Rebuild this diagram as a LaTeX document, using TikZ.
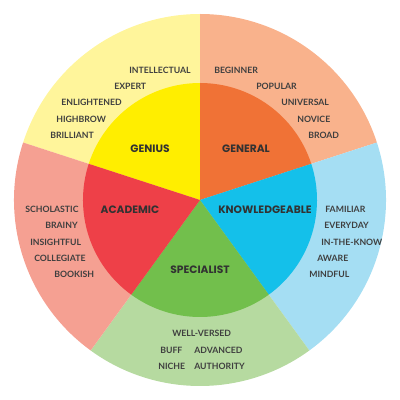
\documentclass[tikz,border=0pt]{standalone}
\usepackage{fontspec}
\newfontfamily\wordfont{Lato}
\newfontfamily\headfont{Poppins}
\usepackage{tikz}
\usetikzlibrary{positioning}
\definecolor{txtgray}{HTML}{3F3F3F}
\definecolor{genin}{HTML}{FFEE00}
\definecolor{genout}{HTML}{FFF59B}
\definecolor{genrin}{HTML}{F07236}
\definecolor{genrout}{HTML}{F9B28C}
\definecolor{knowin}{HTML}{14C0EA}
\definecolor{knowout}{HTML}{A5DEF3}
\definecolor{specin}{HTML}{72BF4C}
\definecolor{specout}{HTML}{B6DAA0}
\definecolor{acadin}{HTML}{EE4048}
\definecolor{acadout}{HTML}{F5A092}

\begin{document}
\begin{tikzpicture}[x=0.025cm,y=0.025cm,
    word/.style={anchor=west,inner sep=0pt,text=txtgray,
      font=\wordfont\bfseries\fontsize{6.2}{7}\selectfont},
    head/.style={inner sep=0pt,text=txtgray!80!black,
      font=\headfont\bfseries\fontsize{7.6}{9}\selectfont}]
  \useasboundingbox (-200,-200) rectangle (200,200);
  % outer ring, one 72 degree slice per group
  \foreach \a/\c in {90/genout,18/genrout,-54/knowout,-126/specout,162/acadout}
    \fill[\c] (0,0) -- (\a:186) arc[start angle=\a,delta angle=72,radius=186] -- cycle;
  % inner disc
  \foreach \a/\c in {90/genin,18/genrin,-54/knowin,-126/specin,162/acadin}
    \fill[\c] (0,0) -- (\a:117) arc[start angle=\a,delta angle=72,radius=117] -- cycle;
  % group names
  \node[head] (genius) at (-50,51) {GENIUS};
  \node[head] (general) at (46,51) {GENERAL};
  \node[head] (academic) at (-70,-10) {ACADEMIC};
  \node[head] (knowl) at (65,-10) {KNOWLEDGEABLE};
  \node[head] (special) at (0,-70) {SPECIALIST};
  % genius words
  \node[word] (intel) at (-71,130) {INTELLECTUAL};
  \node[word] (expert) at (-86,114) {EXPERT};
  \node[word] (enlight) at (-139,97.3) {ENLIGHTENED};
  \node[word] (highbrow) at (-144,81) {HIGHBROW};
  \node[word] (brill) at (-150,65) {BRILLIANT};
  % general words
  \node[word] (begin) at (14,130) {BEGINNER};
  \node[word] (popular) at (56,114) {POPULAR};
  \node[word] (univ) at (81,97.3) {UNIVERSAL};
  \node[word] (novice) at (97,81) {NOVICE};
  \node[word] (broad) at (108,65) {BROAD};
  % academic words
  \node[word] (schol) at (-175,-9) {SCHOLASTIC};
  \node[word] (brainy) at (-155,-25.7) {BRAINY};
  \node[word] (insight) at (-170,-42) {INSIGHTFUL};
  \node[word] (colleg) at (-166,-58) {COLLEGIATE};
  \node[word] (bookish) at (-146,-74.7) {BOOKISH};
  % knowledgeable words
  \node[word] (famil) at (125,-9) {FAMILIAR};
  \node[word] (everyday) at (124,-25.7) {EVERYDAY};
  \node[word] (inknow) at (121,-42) {IN-THE-KNOW};
  \node[word] (aware) at (117,-58) {AWARE};
  \node[word] (mindful) at (109,-74.7) {MINDFUL};
  % specialist words
  \node[word] (wellv) at (-28,-133) {WELL-VERSED};
  \node[word] (buff) at (-40,-150) {BUFF};
  \node[word] (advanced) at (-6,-150) {ADVANCED};
  \node[word] (niche) at (-42,-166) {NICHE};
  \node[word] (author) at (-6,-166) {AUTHORITY};
\end{tikzpicture}
\end{document}
